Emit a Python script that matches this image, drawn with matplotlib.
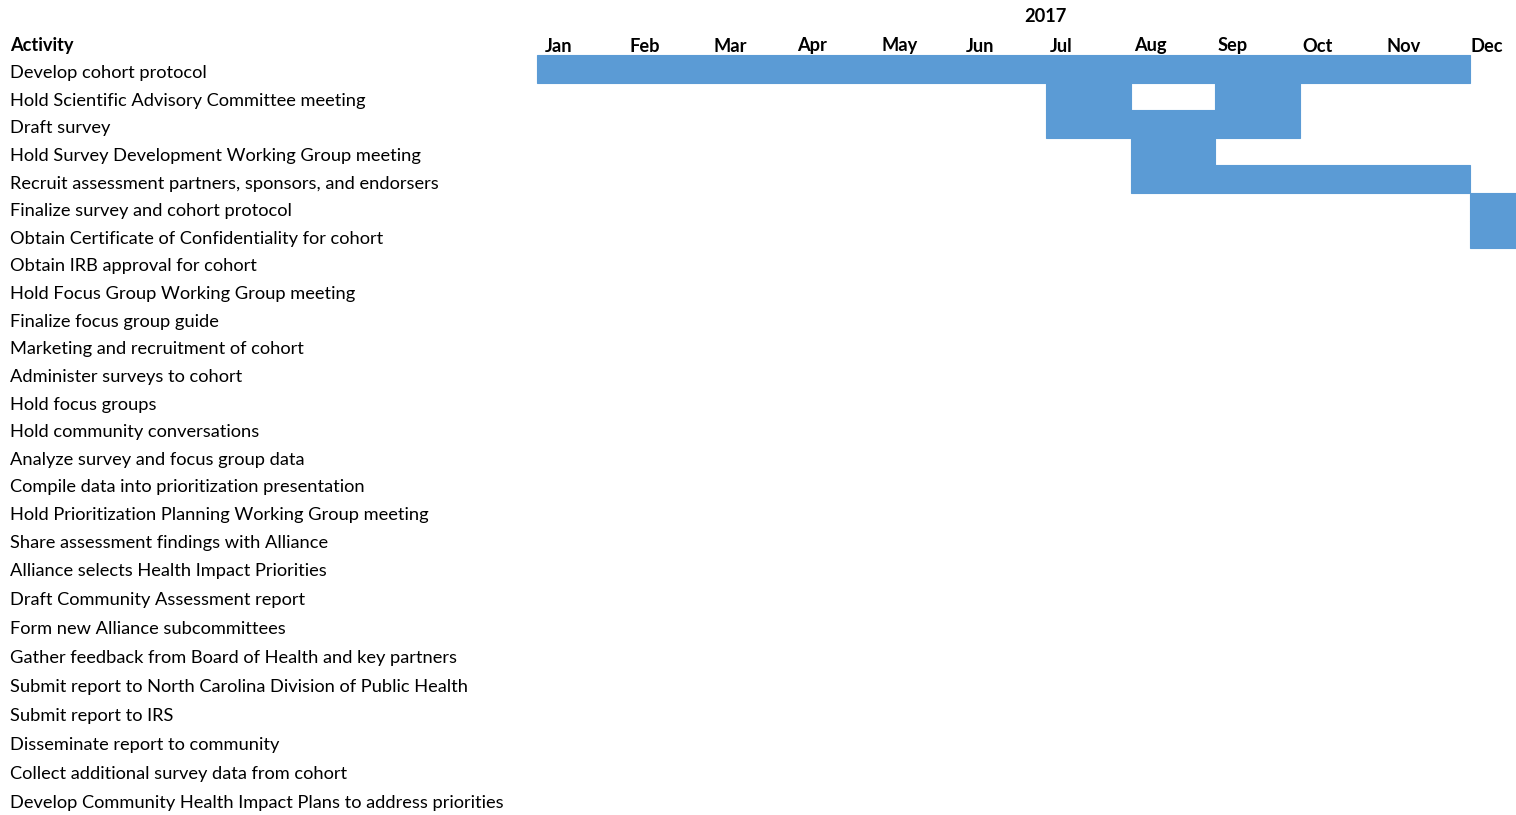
import matplotlib
matplotlib.use("Agg")
import matplotlib.pyplot as plt

plt.rcParams['font.family'] = ['Lato', 'DejaVu Sans']

year = "2017"
months = ["Jan", "Feb", "Mar", "Apr", "May", "Jun",
          "Jul", "Aug", "Sep", "Oct", "Nov", "Dec"]

activities = [
    "Develop cohort protocol",
    "Hold Scientific Advisory Committee meeting",
    "Draft survey",
    "Hold Survey Development Working Group meeting",
    "Recruit assessment partners, sponsors, and endorsers",
    "Finalize survey and cohort protocol",
    "Obtain Certificate of Confidentiality for cohort",
    "Obtain IRB approval for cohort",
    "Hold Focus Group Working Group meeting",
    "Finalize focus group guide",
    "Marketing and recruitment of cohort",
    "Administer surveys to cohort",
    "Hold focus groups",
    "Hold community conversations",
    "Analyze survey and focus group data",
    "Compile data into prioritization presentation",
    "Hold Prioritization Planning Working Group meeting",
    "Share assessment findings with Alliance",
    "Alliance selects Health Impact Priorities",
    "Draft Community Assessment report",
    "Form new Alliance subcommittees",
    "Gather feedback from Board of Health and key partners",
    "Submit report to North Carolina Division of Public Health",
    "Submit report to IRS",
    "Disseminate report to community",
    "Collect additional survey data from cohort",
    "Develop Community Health Impact Plans to address priorities",
]

# (start month index, number of months) per activity, 2017 only
spans = {
    0: [(0, 11)],
    1: [(6, 1), (8, 1)],
    2: [(6, 3)],
    3: [(7, 1)],
    4: [(7, 4)],
    5: [(11, 1)],
    6: [(11, 1)],
}

# layout (pixels)
W, H = 1516, 815
x0, mw = 537, 84.8          # left edge of Jan, width of one month
row_h = [27.6] * 18 + [29.0] * 9
top = 55.0

edges = [top]
for h in row_h:
    edges.append(edges[-1] + h)

fig = plt.figure(figsize=(W / 100, H / 100), dpi=100)
ax = fig.add_axes([0, 0, 1, 1])
ax.set_xlim(-x0 / mw, (W - x0) / mw)
ax.set_ylim(H, 0)
ax.axis('off')

blue = '#5B9BD5'
for i, segs in spans.items():
    for s, d in segs:
        ax.barh(edges[i], d, left=s, height=row_h[i], align='edge',
                color=blue, edgecolor=blue, linewidth=0.8)

fs = 13.15
lx = (10 - x0) / mw
ax.text(lx, 46, "Activity", fontsize=fs, fontweight='bold', va='center', ha='left')
for i, a in enumerate(activities):
    yc = (edges[i] + edges[i + 1]) / 2 + 4.5
    ax.text(lx, yc, a, fontsize=fs, va='center', ha='left')

# month headers sit a little left-aligned in their columns
for m, name in enumerate(months):
    px = 545 + 84.1 * m
    ax.text((px - x0) / mw, 46, name, fontsize=fs, fontweight='bold',
            va='center', ha='left')

ax.text(6.0, 17, year, fontsize=fs, fontweight='bold', va='center', ha='center')

plt.savefig('out.png', dpi=100, facecolor='white')
